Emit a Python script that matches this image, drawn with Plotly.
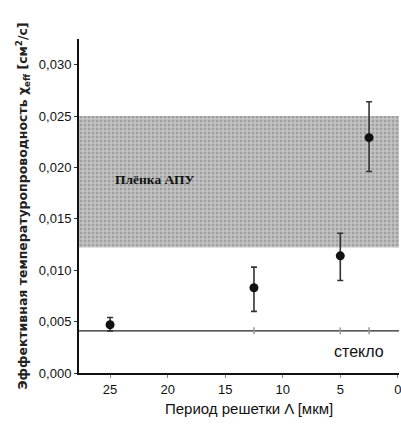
import plotly.graph_objects as go

# Data
period = [25, 12.5, 5, 2.5]
chi_eff = [0.0047, 0.0083, 0.0114, 0.0229]
err_plus = [0.0007, 0.0020, 0.0022, 0.0035]
err_minus = [0.0006, 0.0023, 0.0024, 0.0033]

glass_value = 0.0041
film_low = 0.0122
film_high = 0.0250

x_ticks = [25, 20, 15, 10, 5, 0]
y_ticks = [0.000, 0.005, 0.010, 0.015, 0.020, 0.025, 0.030]

x_range = [27.7, -0.1]
y_range = [0, 0.0325]

fig = go.Figure()

# Film band (stippled gray)
fig.add_trace(go.Scatter(
    x=[x_range[0], x_range[1], x_range[1], x_range[0], x_range[0]],
    y=[film_low, film_low, film_high, film_high, film_low],
    mode="lines", line=dict(width=0), fill="toself",
    fillcolor="#bdbdbd",
    fillpattern=dict(shape=".", bgcolor="#c4c4c4", fgcolor="#7c7c7c", size=4, solidity=0.4),
    hoverinfo="skip", showlegend=False,
))

# Glass line
fig.add_trace(go.Scatter(
    x=[x_range[0], x_range[1]], y=[glass_value, glass_value],
    mode="lines", line=dict(color="#222222", width=1.2),
    hoverinfo="skip", showlegend=False,
))
fig.add_trace(go.Scatter(
    x=period[1:], y=[glass_value] * 3,
    mode="markers", marker=dict(symbol="line-ns", size=5, line=dict(color="#999999", width=1.5)),
    hoverinfo="skip", showlegend=False,
))

# Measured points
fig.add_trace(go.Scatter(
    x=period, y=chi_eff, mode="markers",
    marker=dict(symbol="circle", size=9, color="#111111"),
    error_y=dict(type="data", symmetric=False, array=err_plus, arrayminus=err_minus,
                 color="#333333", thickness=1.6, width=3),
    showlegend=False,
))

fig.add_annotation(x=24.75, y=0.0188, text="<b>Плёнка АПУ</b>", showarrow=False,
                   xanchor="left", yanchor="middle",
                   font=dict(family="Liberation Serif", size=13.5, color="#111111"))
fig.add_annotation(x=3.4, y=0.0021, text="стекло", showarrow=False,
                   xanchor="center", yanchor="middle",
                   font=dict(family="Liberation Sans", size=16, color="#111111"))
fig.add_annotation(x=0.531, y=-0.105, xref="paper", yref="paper",
                   text="Период решетки Λ [мкм]", showarrow=False,
                   xanchor="center", yanchor="middle",
                   font=dict(family="Liberation Sans", size=15, color="#111111"))

fig.update_layout(
    width=401, height=436,
    margin=dict(l=79, r=0, t=39, b=63),
    paper_bgcolor="white", plot_bgcolor="white",
    separators=", ",
    font=dict(family="Liberation Sans", color="#111111"),
    xaxis=dict(
        range=x_range, tickvals=x_ticks, ticktext=[str(v) for v in x_ticks],
        showgrid=False, zeroline=False, showline=True, linecolor="#111111", linewidth=2,
        ticks="outside", ticklen=3, tickcolor="#888888",
        tickfont=dict(size=13, color="#111111"), ticklabeloverflow="allow",
    ),
    yaxis=dict(
        range=y_range, tickvals=y_ticks, tickformat=".3f",
        showgrid=False, zeroline=False, showline=True, linecolor="#111111", linewidth=2,
        ticks="outside", ticklen=3, tickcolor="#333333",
        tickfont=dict(size=13, color="#111111"),
        title=dict(text="<b>Эффективная температуропроводность χ<sub>eff</sub> [см<sup>2</sup>/с]</b>",
                   font=dict(family="DejaVu Sans", size=12.5, color="#222222"), standoff=8),
    ),
)

fig.write_html("out.html", config={"displayModeBar": False},
               post_script="document.body.style.margin='0';")
